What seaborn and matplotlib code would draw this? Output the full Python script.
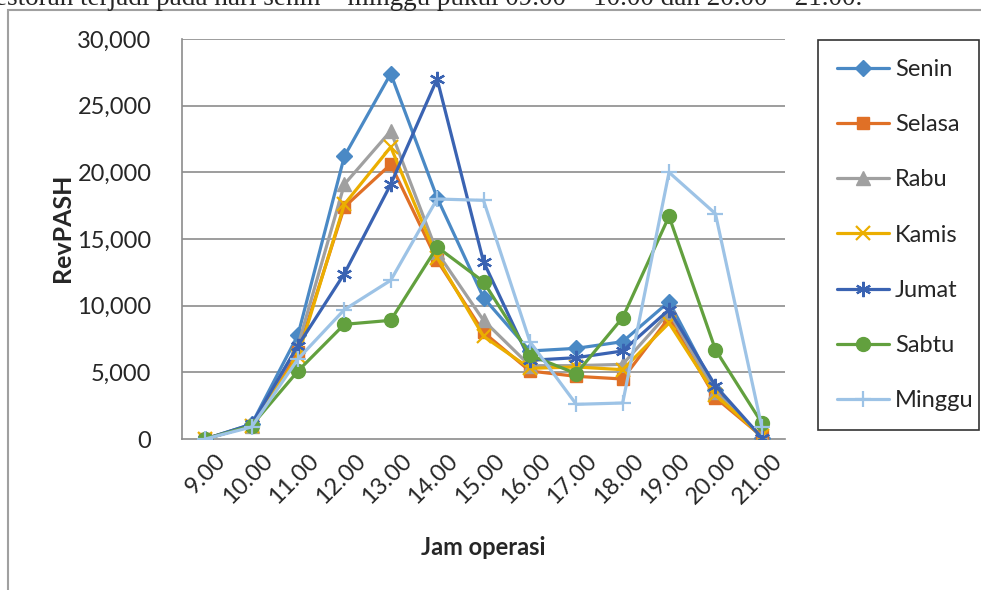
import pandas as pd
import seaborn as sns
import matplotlib.pyplot as plt
from matplotlib.patches import Rectangle
from matplotlib.transforms import ScaledTranslation

# Data (RevPASH per operating hour)
hours = [9, 10, 11, 12, 13, 14, 15, 16, 17, 18, 19, 20, 21]
hour_labels = ['9.00', '10.00', '11.00', '12.00', '13.00', '14.00', '15.00',
               '16.00', '17.00', '18.00', '19.00', '20.00', '21.00']
days = ['Senin', 'Selasa', 'Rabu', 'Kamis', 'Jumat', 'Sabtu', 'Minggu']

senin = [0, 1100, 7800, 21200, 27400, 18100, 10600, 6600, 6800, 7300, 10300, 3700, 100]
selasa = [0, 1000, 6500, 17400, 20600, 13400, 8000, 5100, 4700, 4500, 9100, 3100, 200]
rabu = [0, 1000, 7000, 19100, 23100, 14000, 8900, 5500, 5500, 5600, 9500, 3500, 200]
kamis = [0, 1000, 6200, 17600, 21900, 13600, 7700, 5300, 5400, 5200, 8700, 3300, 200]
jumat = [0, 1100, 7000, 12400, 19100, 27000, 13300, 5900, 6100, 6600, 9700, 4000, 100]
sabtu = [0, 1000, 5100, 8600, 8900, 14400, 11800, 6300, 4900, 9100, 16700, 6700, 1200]
minggu = [0, 900, 6000, 9700, 11900, 18000, 17900, 7300, 2600, 2700, 20000, 16900, 900]

colors = ['#4A89C5', '#E07026', '#A0A0A0', '#EBAE00', '#3A63B2', '#62A03E', '#9DC3E6']
markers = ['D', 's', '^', 'x', (6, 2, 0), 'o', '+']
msizes = [8, 9, 10, 10, 11, 10, 12]

series = [senin, selasa, rabu, kamis, jumat, sabtu, minggu]
df = pd.concat([pd.DataFrame({'hour': hours, 'value': v, 'day': d})
                for d, v in zip(days, series)])

sns.set_style('white')
plt.rcParams['font.family'] = ['Lato', 'DejaVu Sans']

fig = plt.figure(figsize=(9.81, 5.90), dpi=100)
ax = fig.add_axes([182 / 981, 1 - 439 / 590, (785 - 182) / 981, 400 / 590])

for yv in range(5000, 30001, 5000):
    ax.axhline(yv, color='#8C8C8C', lw=1.2, zorder=0)

for i, d in enumerate(days):
    sns.lineplot(data=df[df['day'] == d], x='hour', y='value', ax=ax,
                 color=colors[i], marker=markers[i], markersize=msizes[i],
                 markeredgecolor=colors[i], markeredgewidth=1.6 if i in (3, 4, 6) else 1,
                 lw=2.3, label=d, zorder=3 + i)

ax.set_xlim(8.5, 21.5)
ax.set_ylim(0, 30000)
ax.set_yticks(range(0, 30001, 5000))
ax.set_yticklabels([f'{v:,}' for v in range(0, 30001, 5000)], fontsize=17)
ax.set_xticks(hours)
ax.set_xticklabels(hour_labels, rotation=45, ha='right', rotation_mode='anchor', fontsize=17)
ax.tick_params(axis='y', length=0, pad=22)
ax.tick_params(axis='x', length=0, pad=8)
shift = ScaledTranslation(10 / 100, 0, fig.dpi_scale_trans)
for lab in ax.get_xticklabels():
    lab.set_transform(lab.get_transform() + shift)

for s in ['top', 'right']:
    ax.spines[s].set_visible(False)
ax.spines['left'].set_color('#8C8C8C')
ax.spines['bottom'].set_color('#8C8C8C')
ax.spines['left'].set_linewidth(1.2)
ax.spines['bottom'].set_linewidth(1.2)

ax.set_xlabel('Jam operasi', fontsize=17, fontweight='bold', labelpad=20)
ax.set_ylabel('RevPASH', fontsize=18, fontweight='bold')
ax.yaxis.set_label_coords((74 - 182) / 603, (439 - 228) / 400)

leg = ax.legend(loc='upper left',
                bbox_to_anchor=(818 / 981, 1 - 432 / 590, 161 / 981, 392 / 590),
                bbox_transform=fig.transFigure, mode='expand', frameon=True, fancybox=False,
                fontsize=17, handlelength=2.2, labelspacing=1.45, borderpad=0.8,
                handletextpad=0.25, borderaxespad=0)
leg.get_frame().set_edgecolor('black')
leg.get_frame().set_linewidth(1.2)

# outer chart frame and the clipped line of text above it
fig.patches.append(Rectangle((8 / 981, -0.05), 1.2, 1.05 - 10 / 590, transform=fig.transFigure,
                             fill=False, edgecolor='#A0A0A0', lw=1.5))
fig.text(862 / 981, 1 - 5 / 590,
         'restoran terjadi pada hari senin \u2013 minggu pukul 09.00 \u2013 10.00 dan 20.00 \u2013 21.00.',
         ha='right', va='baseline', fontsize=19.5, family='Liberation Serif')

fig.savefig('out.png', dpi=100)
